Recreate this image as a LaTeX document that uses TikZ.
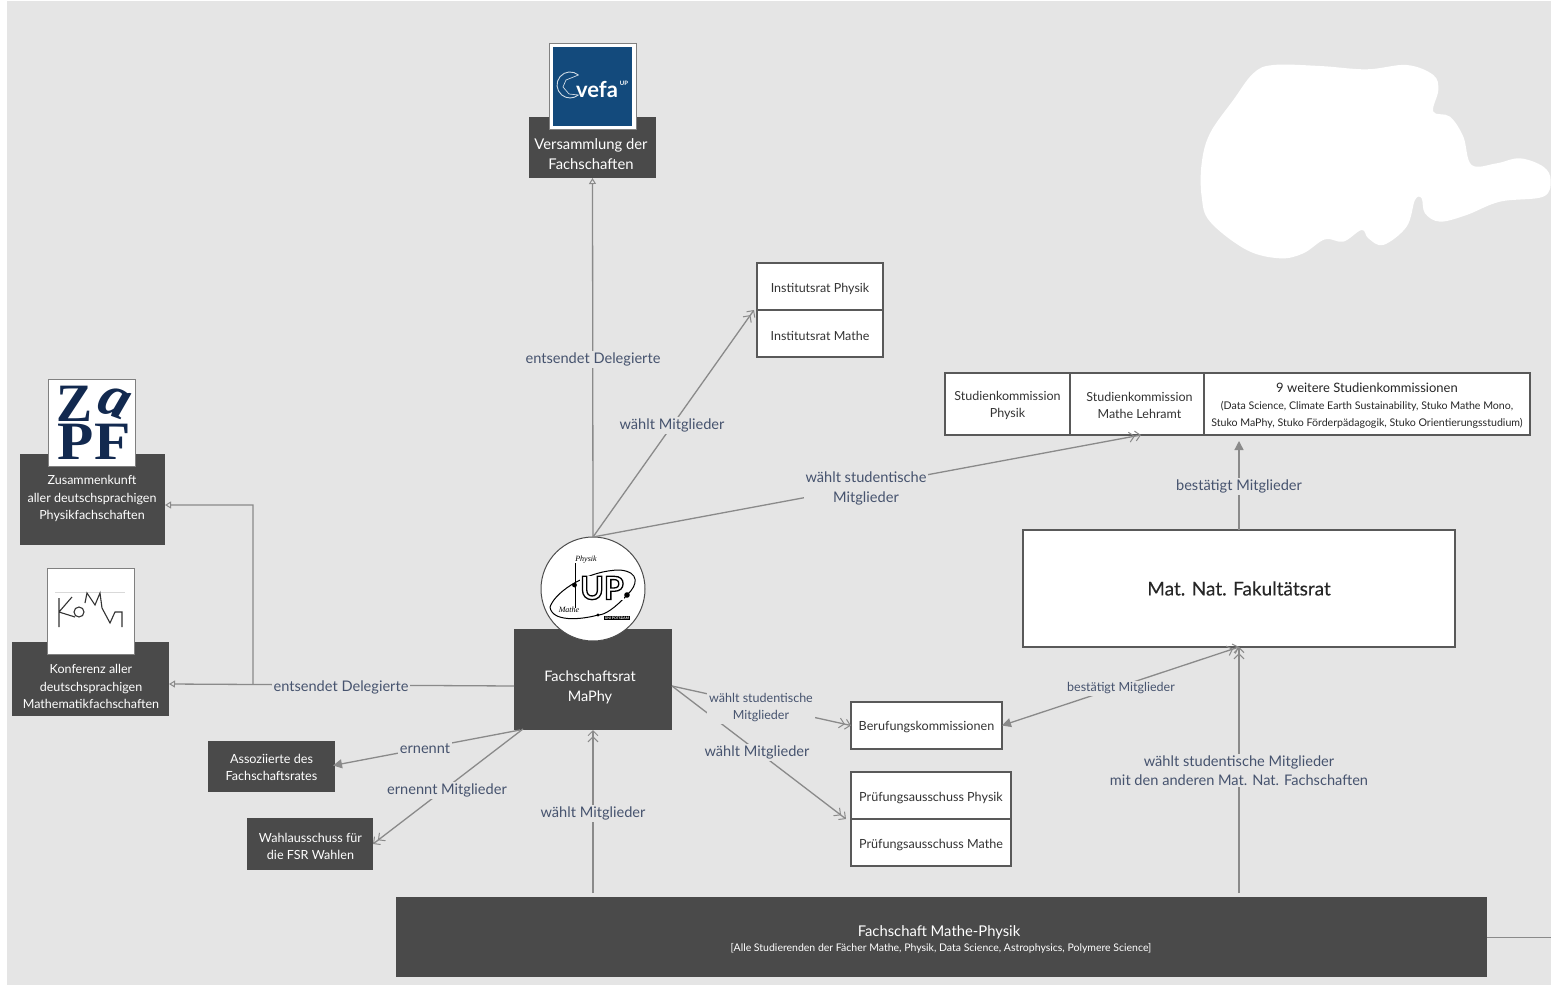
\documentclass[tikz,border=0pt]{standalone}
\usepackage{fontspec}
\setmainfont{Lato}
\newfontfamily\logoserif{Liberation Serif}
\newfontfamily\semi[FakeBold=0.25]{Lato}
\usetikzlibrary{arrows.meta,calc}
\definecolor{bgc}{HTML}{E5E5E5}
\definecolor{dark}{HTML}{4A4A4A}
\definecolor{lbl}{HTML}{46536E}
\definecolor{edge}{HTML}{8A8A8A}
\definecolor{vefablue}{HTML}{134A7C}
\definecolor{zapfblue}{HTML}{12294F}
\newcommand{\fsz}[1]{\fontsize{#1}{#1}\selectfont}
\tikzset{
  x=1pt,y=-1pt,
  box/.style={inner sep=0pt,outer sep=0pt,align=center},
  darkbox/.style={box,fill=dark,text=white},
  whitebox/.style={box,fill=white,draw=black!65,line width=1.1pt,text=black!80},
  logobox/.style={box,fill=white,draw=black!50,line width=1pt},
  conn/.style={draw=edge,line width=1.3pt},
  chev/.style={conn,-{Straight Barb[length=5pt,width=10pt,line width=1pt]Straight Barb[length=5pt,width=10pt,line width=1pt]}},
  solidtip/.style={conn,-{Triangle[length=9pt,width=9pt]}},
  opentip/.style={conn,-{Triangle[open,fill=bgc,length=6pt,width=7pt,line width=1pt]}},
  lab/.style={box,fill=bgc,text=lbl,inner xsep=2pt,inner ysep=2pt},
}
\begin{document}
\begin{tikzpicture}
\useasboundingbox (0,0) rectangle (1551,985);
\fill[white] (0,0) rectangle (1551,985);
\fill[bgc] (7,1) rectangle (1551,985);
% white blob
\begin{scope}[shift={(1180,0)},x=.3333pt,y=-.3333pt]
\fill[white] plot[smooth cycle,tension=.6] coordinates {(280,195)(420,198)(560,208)(680,195)(760,225)(775,270)(760,335)(810,350)(850,410)(875,495)(950,490)(1020,475)(1090,500)(1112,540)(1090,590)(960,605)(860,645)(780,665)(735,640)(725,595)(705,600)(680,680)(610,735)(565,715)(545,690)(490,725)(435,718)(370,760)(300,775)(200,750)(90,665)(65,590)(65,490)(90,400)(160,300)(220,220)};
\end{scope}

% dark boxes
\node[darkbox,minimum width=127pt,minimum height=61pt] (vers) at (592.5,147.5) {};
\node[darkbox,minimum width=145pt,minimum height=91pt] (zapf) at (92.5,499.5) {};
\node[darkbox,minimum width=157pt,minimum height=74pt] (koma) at (90.5,679) {};
\node[darkbox,minimum width=158pt,minimum height=101pt] (fsr) at (593,679.5) {};
\node[darkbox,minimum width=127pt,minimum height=51pt] (assoz) at (271.5,766.5) {};
\node[darkbox,minimum width=126pt,minimum height=52pt] (wahl) at (310,844) {};
\node[darkbox,minimum width=1091pt,minimum height=80pt] (fs) at (941.5,937) {};

% logos
\node[logobox,minimum width=87pt,minimum height=86pt] (vefalogo) at (592.5,86) {};
\fill[vefablue] (553,47) rectangle (632,126);
\draw[white!80!vefablue,line width=.9pt] (578.4,75) arc[start angle=50,end angle=310,radius=13pt];
\draw[white!80!vefablue,line width=.7pt] (578.4,75) -- (566,80) -- (563,87) -- (569,94) -- (578.4,95);
\node[box,text=white,font=\fsz{22}\bfseries] (vefaword) at (597,89) {vefa};
\node[box,text=white,font=\fsz{6}\bfseries] (vefaup) at (624,83) {UP};

\node[logobox,minimum width=87pt,minimum height=87pt] (zapflogo) at (92,423) {};
\node[box,text=zapfblue,font=\logoserif\fsz{54}\bfseries] (zz) at (75,403.5) {Z};
\node[box,text=zapfblue,font=\logoserif\fsz{60}\bfseries\itshape,rotate=-20] (za) at (114,403) {a};
\node[box,text=zapfblue,font=\logoserif\fsz{54}\bfseries,xscale=1.1] (zpf) at (94,441.5) {PF};

\node[logobox,minimum width=87pt,minimum height=86pt] (komalogo) at (90.5,611) {};
\draw[black!15,line width=.5pt] (55,592) -- (125,592);
\begin{scope}[black!80,line width=1.1pt]
\draw (59,598) -- (59,627) (59,612) -- (72,597) (59,612) -- (75,617);
\draw (79,612) circle (5);
\draw (85,603) -- (87,593) -- (95,605) -- (100,593) -- (102,608) -- (110,623) -- (115,612) -- (122,612) -- (122,627);
\end{scope}

\node[circle,fill=white,draw=black!70,line width=1pt,minimum size=104pt,inner sep=0pt,outer sep=0pt] (uplogo) at (593,589) {};
\begin{scope}
\draw[black,line width=.8pt] (575,563) -- (575,608);
\fill[black] (574.5,585) circle (2.4);
\draw[black,line width=1pt] (550,607) .. controls (556,590) and (590,570) .. (620,570) .. controls (640,572) and (638,585) .. (627,595) .. controls (615,608) and (605,615) .. (598,615) .. controls (580,620) and (552,622) .. (550,607);
\fill[black] (627,595) circle (2.8);
\fill[black] (598,615) circle (1.6);
\node[box,font=\logoserif\fsz{8}\itshape,text=black] (upphys) at (586,560) {Physik};
\node[box,font=\logoserif\fsz{8}\itshape,text=black] (upmath) at (569,610) {Mathe};
\node[box,font=\fsz{3.5}\bfseries,text=white,fill=black,inner xsep=1pt,inner ysep=.8pt] (upuni) at (617,618) {UNI POTSDAM};
\node[box,fill=white,font=\fsz{32}\bfseries,text=black] (upword) at (602,588) {\special{pdf:code 1 Tr 1.3 w}UP\special{pdf:code 0 Tr}};
\end{scope}

% white boxes
\node[whitebox,minimum width=126pt,minimum height=47pt] (instp) at (820,286.5) {};
\node[whitebox,minimum width=126pt,minimum height=47pt] (instm) at (820,333.5) {};
\node[whitebox,minimum width=125pt,minimum height=62pt] (stp) at (1007.5,404) {};
\node[whitebox,minimum width=134pt,minimum height=62pt] (stl) at (1137,404) {};
\node[whitebox,minimum width=326pt,minimum height=62pt] (stw) at (1367,404) {};
\node[whitebox,minimum width=432pt,minimum height=117pt,font=\semi\fsz{19},text=black!85] (fak) at (1239,588.5) {Mat. Nat. Fakultätsrat};
\node[whitebox,minimum width=151pt,minimum height=47pt] (ber) at (926.5,725.5) {};
\node[whitebox,minimum width=160pt,minimum height=47pt] (prp) at (931,795.5) {};
\node[whitebox,minimum width=160pt,minimum height=47pt] (prm) at (931,842.5) {};
\node[box,font=\fsz{12.5},text=black!80] (insttxt) at (820,288.5) {Institutsrat Physik};
\node[box,font=\fsz{12.5},text=black!80] (instmtxt) at (820,336) {Institutsrat Mathe};
\node[box,font=\fsz{12.5},text=black!80] (stptxt) at (1007.5,405) {Studienkommission\\[4.5pt]Physik};
\node[box,font=\fsz{12.5},text=black!80] (stltxt) at (1139.5,405) {Studienkommission\\[4.5pt]Mathe Lehramt};
\node[box,text=black!85] (stwtxt) at (1367,405.5) {{\fsz{13}9 weitere Studienkommissionen}\\[5pt]{\fsz{10.6}(Data Science, Climate Earth Sustainability, Stuko Mathe Mono,}\\[4.6pt]{\fsz{10.6}Stuko MaPhy, Stuko Förderpädagogik, Stuko Orientierungsstudium)}};
\node[box,font=\fsz{12.6},text=black!80] (bertxt) at (926.5,727.5) {Berufungskommissionen};
\node[box,font=\fsz{12.6},text=black!80] (prptxt) at (931,798.5) {Prüfungsausschuss Physik};
\node[box,font=\fsz{12.6},text=black!80] (prmtxt) at (931,845.5) {Prüfungsausschuss Mathe};

% connectors
\coordinate (bend) at (253,505);
\coordinate (edgeright) at (1551,937);
\draw[opentip] (uplogo.north) -- (vers.south);
\draw[chev] (uplogo.north) -- ([xshift=-3pt]instp.south west);
\draw[chev] (uplogo.north) -- ([xshift=4pt]stl.south);
\draw[solidtip] (fak.north) -- ([yshift=-6pt]stw.south -| fak.north);
\draw[opentip] ([yshift=-6.5pt]fsr.west) -- ([yshift=-5pt]koma.east);
\draw[opentip] ($([yshift=-6.5pt]fsr.west)!.7565!([yshift=-5pt]koma.east)$) -- (bend) -- (bend -| zapf.east);
\draw[solidtip] ([xshift=6pt]fsr.south west) -- ([xshift=-2pt,yshift=1pt]assoz.east);
\draw[chev] ([xshift=9pt,yshift=1pt]fsr.south west) -- (wahl.east);
\draw[chev] ([yshift=4pt]fs.north -| fsr.south) -- (fsr.south);
\draw[chev] ([yshift=-6.5pt]fsr.east) -- (ber.west);
\draw[chev] ([yshift=-6.5pt]fsr.east) -- ([xshift=-5pt]prp.south west);
\draw[chev] ([yshift=4pt]fs.north -| fak.south) -- (fak.south);
\draw[conn,{Straight Barb[length=5pt,width=10pt,line width=1pt]Straight Barb[length=5pt,width=10pt,line width=1pt]}-{Triangle[length=9pt,width=9pt]}] (fak.south) -- (ber.east);
\draw[conn,line width=.8pt] (fs.east) -- (edgeright);

% texts in dark boxes
\node[box,text=white,font=\fsz{14.8}] (verstxt) at (591,154.5) {Versammlung der\\[5pt]Fachschaften};
\node[box,text=white,font=\fsz{12.5}] (zapftxt) at (92,498.5) {Zusammenkunft\\[4.7pt]aller deutschsprachigen\\[4.7pt]Physikfachschaften};
\node[box,text=white,font=\fsz{12.5}] (komatxt) at (91,686.5) {Konferenz aller\\[4.7pt]deutschsprachigen\\[4.7pt]Mathematikfachschaften};
\node[box,text=white,font=\fsz{14.5}] (fsrtxt) at (590,687) {Fachschaftsrat\\[5.5pt]MaPhy};
\node[box,text=white,font=\fsz{12.6}] (assoztxt) at (271.5,767.5) {Assoziierte des\\[4.5pt]Fachschaftsrates};
\node[box,text=white,font=\fsz{12.6}] (wahltxt) at (310.5,846.5) {Wahlausschuss für\\[4.5pt]die FSR Wahlen};
\node[box,text=white,font=\fsz{14.8}] (fstxt) at (939,932) {Fachschaft Mathe-Physik};
\node[box,text=white,font=\fsz{10.5}] (fssub) at (941,948) {[Alle Studierenden der Fächer Mathe, Physik, Data Science, Astrophysics, Polymere Science]};

% labels
\node[lab,font=\fsz{14.6}] (l1) at (593,359.5) {entsendet Delegierte};
\node[lab,font=\fsz{14.6}] (l2) at (672,425.5) {wählt Mitglieder};
\node[lab,font=\fsz{14.6}] (l3) at (866,488.5) {wählt studentische\\[4.5pt]Mitglieder};
\node[lab,font=\fsz{14.6}] (l4) at (1239,486.5) {bestätigt Mitglieder};
\node[lab,font=\fsz{12.5}] (l5) at (1121,688.5) {bestätigt Mitglieder};
\node[lab,font=\fsz{14.6}] (l6) at (1239,770.5) {wählt studentische Mitglieder\\[4.5pt]mit den anderen Mat. Nat. Fachschaften};
\node[lab,font=\fsz{14.6}] (l7) at (341,687.5) {entsendet Delegierte};
\node[lab,font=\fsz{14.6}] (l8) at (425,748.5) {ernennt};
\node[lab,font=\fsz{14.6}] (l9) at (447,790.5) {ernennt Mitglieder};
\node[lab,font=\fsz{14.6}] (l10) at (593,813.5) {wählt Mitglieder};
\node[lab,font=\fsz{12.5}] (l11) at (761,707.5) {wählt studentische\\[4.5pt]Mitglieder};
\node[lab,font=\fsz{14.6}] (l12) at (757,752.5) {wählt Mitglieder};
\end{tikzpicture}
\end{document}
